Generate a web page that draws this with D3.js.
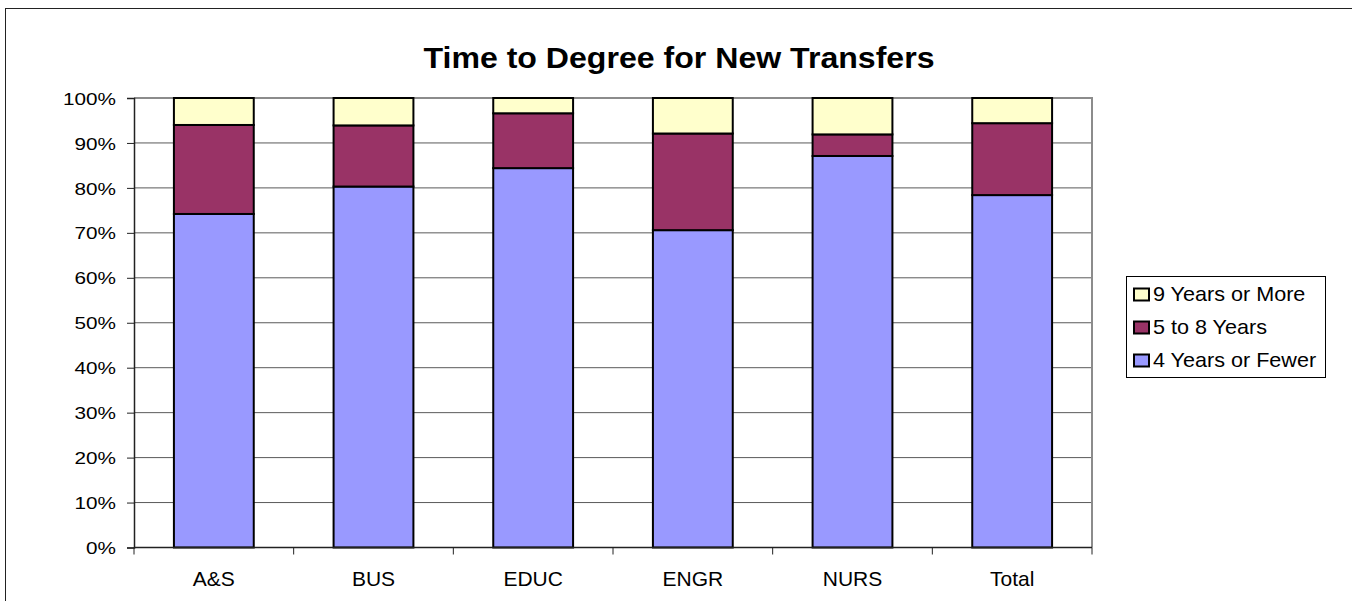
<!DOCTYPE html>
<html>
<head>
<meta charset="utf-8">
<script src="https://cdn.jsdelivr.net/npm/d3@7"></script>
<style>
  body { margin: 0; background: #fff; }
  svg { display: block; font-family: Arial, "Liberation Sans", sans-serif; }
</style>
</head>
<body>
<svg id="chart" width="1352" height="601"></svg>
<script>
// Chart data
let categories = ['A&S', 'BUS', 'EDUC', 'ENGR', 'NURS', 'Total'];
let seriesNames = ['4 Years or Fewer', '5 to 8 Years', '9 Years or More'];
let fourOrFewer = [74.2, 80.3, 84.4, 70.6, 87.1, 78.4];
let fiveToEight = [19.8, 13.6, 12.2, 21.5, 4.8, 16.0];
let nineOrMore = [6.0, 6.1, 3.4, 7.9, 8.1, 5.6];
let yTicks = [0, 10, 20, 30, 40, 50, 60, 70, 80, 90, 100];
let seriesColors = ['#9999ff', '#993366', '#ffffcc'];

// Build rows for d3.stack
let table_data = categories.map((c, i) => ({
    cat: c,
    [seriesNames[0]]: fourOrFewer[i],
    [seriesNames[1]]: fiveToEight[i],
    [seriesNames[2]]: nineOrMore[i]
}));

let svg = d3.select('#chart');

// Plot area bounds
let plotLeft = 134, plotRight = 1092, plotTop = 98, plotBottom = 547.5;

// Outer chart border (only left and top edges are inside the picture)
svg.append('rect')
    .attr('x', 5.5).attr('y', 8.5)
    .attr('width', 1400).attr('height', 700)
    .attr('fill', 'none')
    .attr('stroke', '#222')
    .attr('stroke-width', 1);

// Title
svg.append('text')
    .attr('transform', 'translate(679,68) scale(1.07,1)')
    .attr('text-anchor', 'middle')
    .attr('font-size', 30)
    .attr('font-weight', 'bold')
    .text('Time to Degree for New Transfers');

let x = d3.scaleBand()
    .domain(categories)
    .range([plotLeft, plotRight])
    .paddingInner(0.5)
    .paddingOuter(0.25);

let y = d3.scaleLinear()
    .domain([0, 100])
    .range([plotBottom, plotTop]);

// Gridlines
svg.append('g')
    .selectAll('line')
    .data(yTicks.filter(d => d > 0 && d < 100))
    .join('line')
    .attr('x1', plotLeft).attr('x2', plotRight)
    .attr('y1', d => y(d)).attr('y2', d => y(d))
    .attr('stroke', '#5a5a5a')
    .attr('stroke-width', 1);

// Plot area border on top and right
svg.append('path')
    .attr('d', `M${plotLeft},${y(100)}H${plotRight}V${plotBottom}`)
    .attr('fill', 'none')
    .attr('stroke', '#8c8c8c')
    .attr('stroke-width', 2);

// Stacked bars
let stacked = d3.stack().keys(seriesNames)(table_data);

svg.append('g')
    .selectAll('g')
    .data(stacked)
    .join('g')
    .attr('fill', (d, i) => seriesColors[i])
    .selectAll('rect')
    .data(d => d)
    .join('rect')
    .attr('x', d => x(d.data.cat))
    .attr('y', d => y(d[1]))
    .attr('width', x.bandwidth())
    .attr('height', d => y(d[0]) - y(d[1]))
    .attr('stroke', '#000')
    .attr('stroke-width', 2);

// Y axis
let yAxis = svg.append('g')
    .attr('transform', `translate(${plotLeft},0)`)
    .call(d3.axisLeft(y).tickValues(yTicks).tickSize(7).tickFormat(d => d + '%'));

yAxis.select('.domain').attr('stroke', '#222').attr('stroke-width', 1.5);
yAxis.selectAll('.tick line').attr('stroke', '#222');
yAxis.selectAll('.tick text')
    .attr('x', null)
    .attr('dy', '0.36em')
    .attr('font-size', 17)
    .attr('fill', '#000')
    .attr('transform', 'translate(-18,0) scale(1.22,1)');

// X axis line with ticks on category boundaries
let boundaries = categories.map(c => x(c) - x.step() * x.paddingInner() / 2);
boundaries.push(plotRight);

let xAxis = svg.append('g');
xAxis.append('line')
    .attr('x1', plotLeft).attr('x2', plotRight)
    .attr('y1', plotBottom).attr('y2', plotBottom)
    .attr('stroke', '#222')
    .attr('stroke-width', 1.5);

xAxis.selectAll('line.tick')
    .data(boundaries)
    .join('line')
    .attr('class', 'tick')
    .attr('x1', d => d).attr('x2', d => d)
    .attr('y1', plotBottom).attr('y2', plotBottom + 7)
    .attr('stroke', '#222');

xAxis.selectAll('text')
    .data(categories)
    .join('text')
    .attr('x', d => x(d) + x.bandwidth() / 2)
    .attr('y', 585.5)
    .attr('text-anchor', 'middle')
    .attr('font-size', 21)
    .text(d => d);

// Legend (reversed order, top to bottom)
let legend = svg.append('g');
legend.append('rect')
    .attr('x', 1126.5).attr('y', 276.5)
    .attr('width', 199).attr('height', 101)
    .attr('fill', '#fff')
    .attr('stroke', '#000')
    .attr('stroke-width', 1);

let legendItems = seriesNames.map((n, i) => ({ name: n, color: seriesColors[i] })).reverse();

let rows = legend.selectAll('g.item')
    .data(legendItems)
    .join('g')
    .attr('class', 'item')
    .attr('transform', (d, i) => `translate(1134,${300.5 + i * 33})`);

rows.append('rect')
    .attr('x', 0).attr('y', -12)
    .attr('width', 15).attr('height', 12)
    .attr('fill', d => d.color)
    .attr('stroke', '#000')
    .attr('stroke-width', 2);

rows.append('text')
    .attr('transform', 'translate(19,0) scale(1.08,1)')
    .attr('font-size', 20)
    .text(d => d.name);
</script>
</body>
</html>
